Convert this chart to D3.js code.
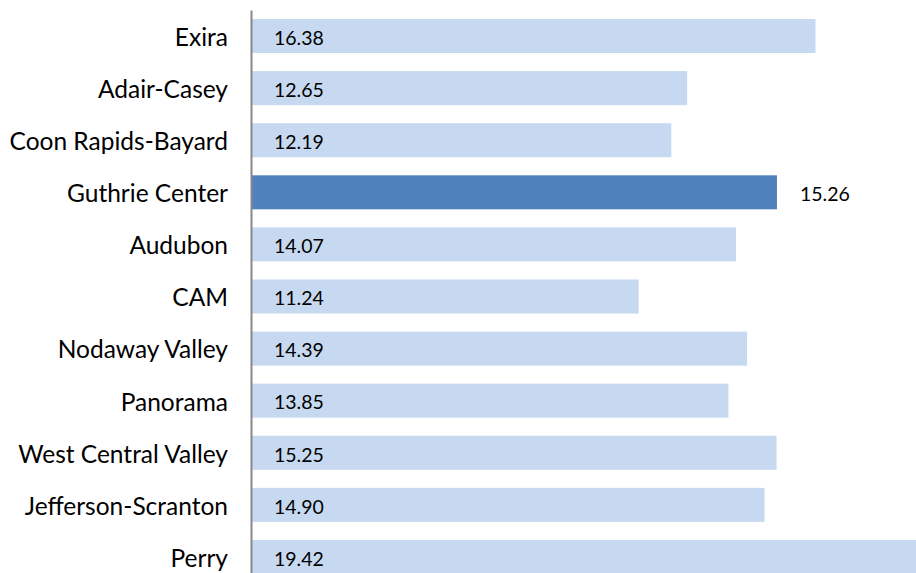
<!DOCTYPE html>
<html><head><meta charset="utf-8">
<script src="https://cdn.jsdelivr.net/npm/d3@7"></script>
<style>body{margin:0;background:#fff;} svg{display:block;}</style>
</head><body>
<script>
const categories = ["Exira","Adair-Casey","Coon Rapids-Bayard","Guthrie Center","Audubon","CAM","Nodaway Valley","Panorama","West Central Valley","Jefferson-Scranton","Perry"];
const values = [16.38,12.65,12.19,15.26,14.07,11.24,14.39,13.85,15.25,14.90,19.42];
const labels = ["16.38","12.65","12.19","15.26","14.07","11.24","14.39","13.85","15.25","14.90","19.42"];
const highlight = "Guthrie Center";

const W = 916, H = 573;
const x0 = 252;
const svg = d3.select("body").append("svg").attr("width", W).attr("height", H);
const x = d3.scaleLinear().domain([0, 1]).range([x0, x0 + 34.4]);
const y = d3.scaleBand().domain(categories).range([10, 583]).paddingInner(0.347).paddingOuter(0.173);

svg.selectAll("rect.bar").data(categories).enter().append("rect")
  .attr("x", x(0))
  .attr("y", d => y(d))
  .attr("width", (d,i) => x(values[i]) - x(0))
  .attr("height", y.bandwidth())
  .attr("fill", d => d === highlight ? "#4F81BD" : "#C6D9F0");

svg.selectAll("text.val").data(categories).enter().append("text")
  .attr("x", (d,i) => d === highlight ? x(values[i]) + 23 : x(0) + 22)
  .attr("y", d => y(d) + y.bandwidth()/2)
  .attr("dy", "0.45em")
  .attr("font-family", "Lato, 'Open Sans', sans-serif")
  .attr("font-size", 19.5)
  .attr("fill", "#000")
  .text((d,i) => labels[i]);

const axis = d3.axisLeft(y).tickSize(0).tickPadding(23);
const g = svg.append("g").attr("transform", `translate(${x0 - 1},0)`).call(axis);
g.select(".domain").attr("stroke", "#888").attr("stroke-width", 2);
g.selectAll("text").attr("font-family", "Lato, 'Open Sans', sans-serif").attr("font-size", 24.5).attr("dy", "0.4em").attr("fill", "#000");
</script>
</body></html>
